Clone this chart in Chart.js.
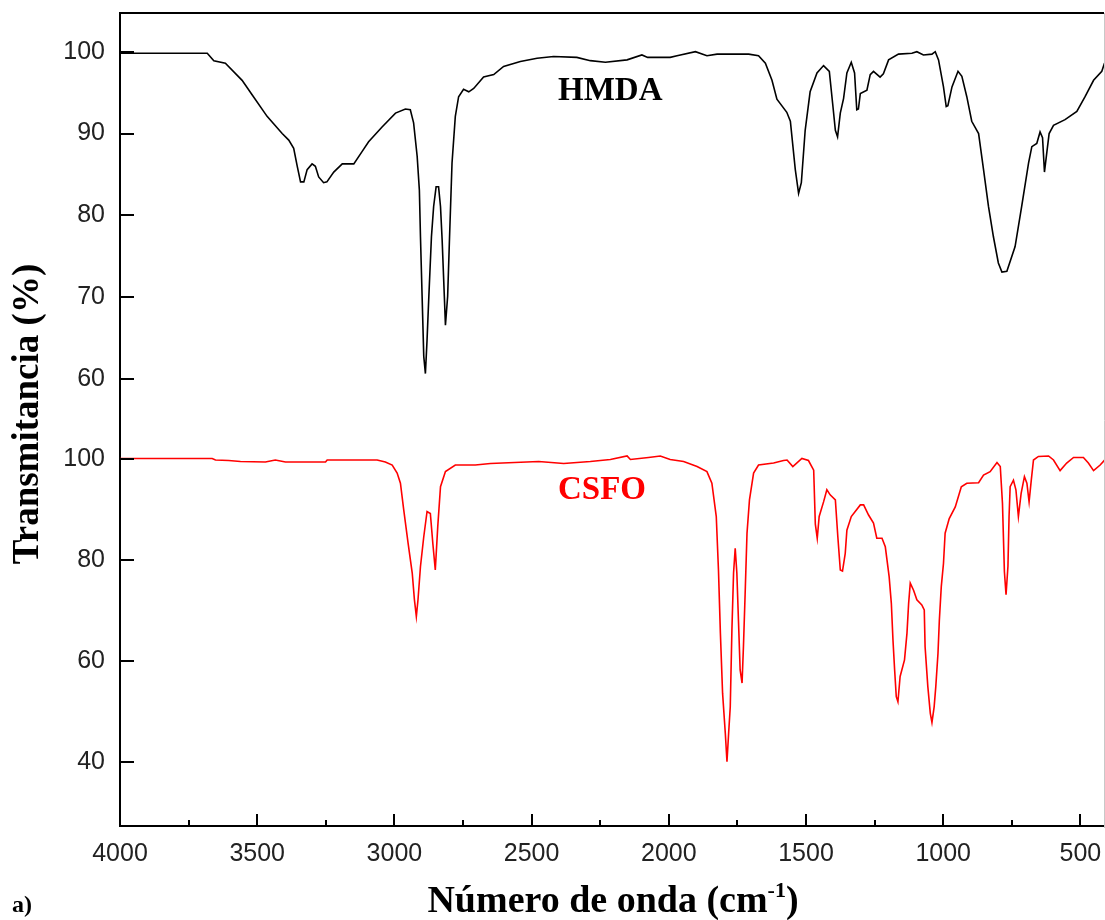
<!DOCTYPE html>
<html>
<head>
<meta charset="utf-8">
<script src="https://cdn.jsdelivr.net/npm/chart.js@4.4.1/dist/chart.umd.min.js"></script>
<style>
  html, body { margin: 0; padding: 0; background: #fff; }
  #wrap { width: 1105px; height: 920px; position: relative; }
</style>
</head>
<body>
<div id="wrap"><canvas id="c" width="1105" height="920"></canvas></div>
<script>
// ---- Data ----
const hmdaWavenumber = [4000,3700,3682,3658,3616,3555,3518,3464,3409,3385,3367,3354,3342,3330,3318,3300,3288,3276,3258,3246,3221,3190,3148,3118,3094,3045,2996,2960,2942,2930,2917,2909,2905,2899,2893,2887,2881,2875,2865,2857,2848,2839,2832,2826,2818,2814,2806,2799,2790,2778,2766,2748,2729,2711,2675,2638,2602,2541,2480,2420,2335,2286,2231,2152,2098,2077,1995,1970,1903,1861,1824,1709,1673,1648,1624,1606,1570,1557,1539,1527,1517,1503,1485,1460,1436,1415,1403,1393,1385,1375,1363,1351,1335,1323,1315,1309,1302,1278,1266,1254,1230,1218,1199,1163,1114,1096,1072,1041,1029,1017,999,989,983,968,946,932,914,896,871,853,835,817,799,786,768,738,714,689,677,659,647,638,631,622,614,598,556,513,483,452,422,412];
const hmdaTransmittance = [99.8,99.8,99.8,98.9,98.6,96.5,94.7,92.1,90.0,89.2,88.2,86.0,84.1,84.1,85.6,86.3,86.0,84.7,84.0,84.1,85.3,86.3,86.3,87.8,89.0,90.8,92.5,93.0,92.9,91.3,87.2,83.1,77.4,70.1,62.8,60.7,64.8,69.7,77.4,81.1,83.5,83.5,81.1,77.0,70.1,66.6,70.1,77.4,86.4,92.1,94.5,95.4,95.1,95.5,96.9,97.2,98.2,98.8,99.2,99.4,99.3,98.9,98.7,99.0,99.6,99.3,99.3,99.5,100.0,99.5,99.7,99.7,99.5,98.6,96.5,94.2,92.6,91.5,85.6,82.7,84.0,90.4,95.1,97.4,98.3,97.6,93.7,90.4,89.6,92.5,94.3,97.4,98.7,97.4,92.9,93.0,94.9,95.3,97.2,97.6,96.9,97.3,99.0,99.7,99.8,100.0,99.6,99.7,100.0,99.0,95.7,93.3,93.4,95.7,97.6,97.0,94.5,91.5,90.0,85.6,81.1,77.4,74.2,73.1,73.2,76.2,81.1,86.4,88.4,88.8,90.2,89.5,85.3,87.8,90.0,91.0,91.7,92.7,94.5,96.5,97.6,98.6];

const csfoWavenumber = [4000,3664,3652,3604,3561,3470,3434,3397,3251,3245,3063,3033,3008,2990,2978,2966,2950,2935,2927,2920,2914,2905,2893,2881,2869,2860,2851,2842,2832,2814,2778,2705,2650,2474,2383,2286,2213,2152,2140,2074,2031,1995,1946,1897,1861,1843,1827,1819,1812,1804,1794,1788,1782,1776,1770,1764,1758,1752,1746,1740,1733,1728,1721,1715,1706,1691,1673,1618,1582,1569,1548,1515,1491,1472,1466,1459,1452,1436,1424,1412,1393,1384,1375,1367,1357,1351,1335,1302,1290,1272,1254,1242,1223,1211,1197,1189,1183,1177,1171,1165,1157,1141,1132,1126,1120,1108,1096,1078,1069,1066,1056,1047,1041,1033,1027,1019,1014,1007,999,993,978,956,934,914,871,853,829,804,792,784,777,771,764,760,756,744,735,726,716,704,695,687,679,671,653,616,598,574,550,525,489,471,452,428,410];
const csfoTransmittance = [100.2,100.2,99.9,99.8,99.6,99.5,99.9,99.5,99.5,99.9,99.9,99.5,98.9,97.3,95.3,90.0,83.4,77.5,72.2,68.9,72.2,78.8,84.7,89.7,89.3,83.4,78.1,86.7,94.6,97.6,98.9,98.9,99.2,99.6,99.2,99.6,100.0,100.7,100.0,100.4,100.7,100.0,99.6,98.6,97.6,95.3,88.7,78.1,65.6,53.7,45.7,40.1,45.7,51.0,66.2,77.5,82.4,77.5,67.9,58.3,55.7,62.9,74.8,85.4,92.0,97.3,98.9,99.3,99.8,99.9,98.6,100.2,99.8,97.9,87.2,84.4,88.7,91.6,94.0,93.0,92.0,84.7,78.1,77.9,81.4,86.0,88.7,91.0,91.0,89.0,87.4,84.4,84.4,82.7,76.8,71.5,64.2,58.3,53.0,52.0,57.0,60.3,65.6,71.5,75.5,74.1,72.2,71.2,70.2,62.9,55.0,49.7,47.9,51.0,55.0,61.6,68.2,74.8,79.4,85.4,88.3,90.6,94.6,95.3,95.4,96.9,97.6,99.4,98.6,91.3,77.8,73.2,78.9,88.7,94.6,95.9,94.0,88.7,93.3,96.6,95.3,91.6,95.9,99.9,100.6,100.7,99.9,97.8,99.3,100.4,100.4,99.3,97.8,98.9,100.0];

const xTickValues = [4000, 3500, 3000, 2500, 2000, 1500, 1000, 500];
const xMinorTickValues = [3750, 3250, 2750, 2250, 1750, 1250, 750];
const hmdaTickValues = [100, 90, 80, 70, 60];
const csfoTickValues = [100, 80, 60, 40];

const seriesNames = ['HMDA', 'CSFO'];
const seriesColors = ['#000000', '#ff0000'];

// ---- Scale ranges ----
const X_MIN = 414, X_MAX = 4000;
const Y_MIN = 5.46, Y_MAX = 104.72;       // HMDA axis (visible)
const Y2_MIN = 27.38, Y2_MAX = 188.47;    // CSFO axis (hidden)

function csfoToHmdaUnits(v) {
  return Y_MIN + (v - Y2_MIN) / (Y2_MAX - Y2_MIN) * (Y_MAX - Y_MIN);
}
const yTicks = hmdaTickValues.map(v => ({ value: v, label: String(v) }))
  .concat(csfoTickValues.map(v => ({ value: csfoToHmdaUnits(v), label: String(v) })));

const toPoints = (xs, ys) => xs.map((x, i) => ({ x: x, y: ys[i] }));

const SERIF = '"Liberation Serif", "Times New Roman", serif';
const SANS = '"Liberation Sans", Arial, sans-serif';

function noPad(s) {
  s.paddingTop = 0; s.paddingBottom = 0; s.paddingLeft = 0; s.paddingRight = 0;
}

const decor = {
  id: 'decor',
  afterDraw(chart) {
    const { ctx, chartArea: a, scales } = chart;
    const x = scales.x, y = scales.y;
    ctx.save();
    // top frame
    ctx.strokeStyle = '#000';
    ctx.lineWidth = 2;
    ctx.beginPath();
    ctx.moveTo(a.left - 1, a.top);
    ctx.lineTo(a.right, a.top);
    ctx.stroke();
    // right edge
    ctx.strokeStyle = '#c8c8c8';
    ctx.lineWidth = 1;
    ctx.beginPath();
    ctx.moveTo(a.right + 0.5, a.top);
    ctx.lineTo(a.right + 0.5, a.bottom + 2);
    ctx.stroke();
    // inward ticks
    ctx.strokeStyle = '#000';
    ctx.lineWidth = 2;
    ctx.beginPath();
    xTickValues.forEach(v => {
      const px = Math.round(x.getPixelForValue(v));
      ctx.moveTo(px, a.bottom);
      ctx.lineTo(px, a.bottom - 12);
    });
    xMinorTickValues.forEach(v => {
      const px = Math.round(x.getPixelForValue(v));
      ctx.moveTo(px, a.bottom);
      ctx.lineTo(px, a.bottom - 6);
    });
    y.ticks.forEach(t => {
      const py = Math.round(y.getPixelForValue(t.value));
      ctx.moveTo(a.left, py);
      ctx.lineTo(a.left + 14, py);
    });
    ctx.stroke();

    // series labels
    ctx.font = 'bold 33px ' + SERIF;
    ctx.textBaseline = 'alphabetic';
    ctx.textAlign = 'left';
    ctx.fillStyle = seriesColors[0];
    ctx.fillText(seriesNames[0], 558, 100);
    ctx.fillStyle = seriesColors[1];
    ctx.fillText(seriesNames[1], 558, 499);

    // y title
    ctx.fillStyle = '#000';
    ctx.save();
    ctx.translate(38, 414);
    ctx.rotate(-Math.PI / 2);
    ctx.font = 'bold 37px ' + SERIF;
    ctx.textAlign = 'center';
    ctx.fillText('Transmitancia (%)', 0, 0);
    ctx.restore();

    // x title with superscript
    const mainFont = 'bold 38px ' + SERIF;
    const supFont = 'bold 22px ' + SERIF;
    const p1 = 'Número de onda (cm', p2 = '-1', p3 = ')';
    ctx.font = mainFont; const w1 = ctx.measureText(p1).width; const w3 = ctx.measureText(p3).width;
    ctx.font = supFont; const w2 = ctx.measureText(p2).width;
    let sx = 613 - (w1 + w2 + w3) / 2;
    const base = 912;
    ctx.textAlign = 'left';
    ctx.font = mainFont; ctx.fillText(p1, sx, base); sx += w1;
    ctx.font = supFont; ctx.fillText(p2, sx, base - 15); sx += w2;
    ctx.font = mainFont; ctx.fillText(p3, sx, base);

    // panel letter
    ctx.font = 'bold 24px ' + SERIF;
    ctx.fillText('a)', 12, 912);
    ctx.restore();
  }
};

new Chart(document.getElementById('c'), {
  type: 'line',
  data: {
    datasets: [
      {
        label: seriesNames[0],
        data: toPoints(hmdaWavenumber, hmdaTransmittance),
        borderColor: seriesColors[0],
        borderWidth: 1.6,
        pointRadius: 0,
        tension: 0,
        yAxisID: 'y'
      },
      {
        label: seriesNames[1],
        data: toPoints(csfoWavenumber, csfoTransmittance),
        borderColor: seriesColors[1],
        borderWidth: 1.6,
        pointRadius: 0,
        tension: 0,
        yAxisID: 'y2'
      }
    ]
  },
  options: {
    responsive: false,
    animation: false,
    events: [],
    layout: { padding: { left: 0, right: 1, top: 13, bottom: 0 } },
    plugins: { legend: { display: false }, tooltip: { enabled: false }, title: { display: false } },
    scales: {
      x: {
        type: 'linear',
        reverse: true,
        min: X_MIN,
        max: X_MAX,
        grid: { display: false, drawTicks: false },
        border: { display: true, color: '#000', width: 2 },
        afterBuildTicks: s => { s.ticks = xTickValues.slice().sort((p, q) => p - q).map(v => ({ value: v })); },
        ticks: {
          autoSkip: false,
          maxRotation: 0,
          padding: 13,
          color: '#222',
          font: { family: SANS, size: 25 },
          callback: v => String(v)
        },
        afterFit: s => { s.height = 94; noPad(s); }
      },
      y: {
        type: 'linear',
        position: 'left',
        min: Y_MIN,
        max: Y_MAX,
        grid: { display: false, drawTicks: false },
        border: { display: true, color: '#000', width: 2 },
        afterBuildTicks: s => { s.ticks = yTicks.map(t => ({ value: t.value })); },
        ticks: {
          autoSkip: false,
          padding: 15,
          color: '#222',
          font: { family: SANS, size: 25 },
          callback: (v, i) => yTicks[i].label
        },
        afterFit: s => { s.width = 120; noPad(s); }
      },
      y2: {
        type: 'linear',
        display: false,
        min: Y2_MIN,
        max: Y2_MAX
      }
    }
  },
  plugins: [decor]
});
</script>
</body>
</html>
